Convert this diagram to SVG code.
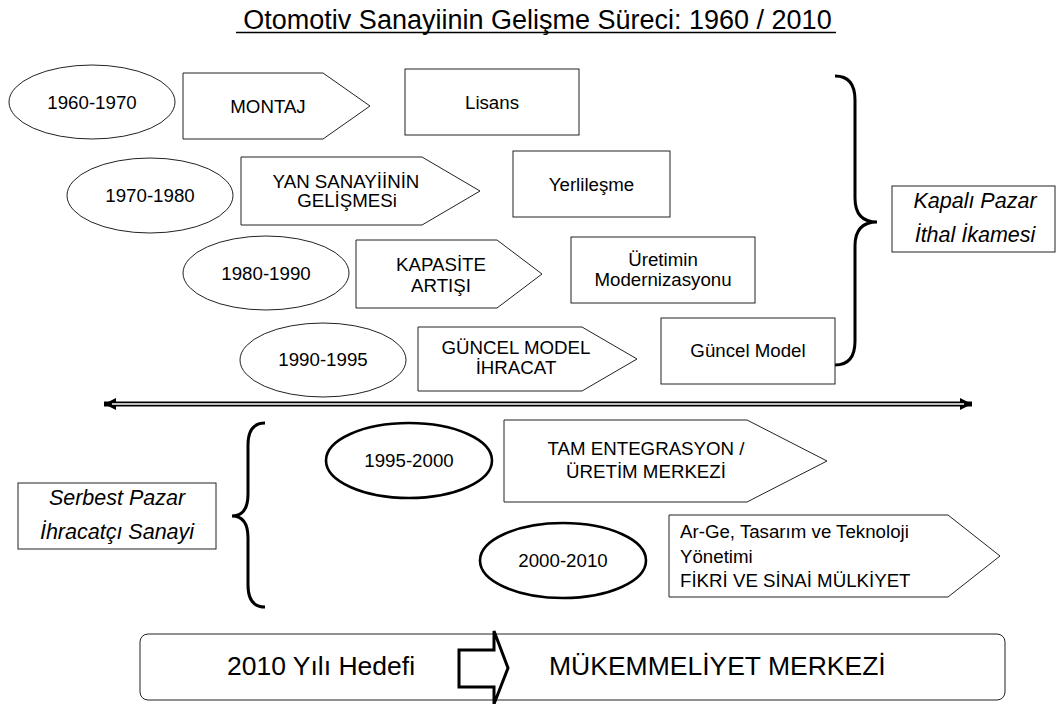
<svg xmlns="http://www.w3.org/2000/svg" width="1057" height="704" viewBox="0 0 1057 704">
<defs>
<style>
.t{font-family:"Liberation Sans",Arial,sans-serif;font-size:18.7px;fill:#000;text-anchor:middle}
.it{font-style:italic;font-size:21.5px}
.sm{font-size:18.7px;text-anchor:start}
.big{font-size:26.5px;text-anchor:start}
.sh{fill:#fff;stroke:#222;stroke-width:1}
.bold{stroke:#000;stroke-width:2.6}
.br{fill:none;stroke:#000;stroke-width:3}
</style>
<marker id="ah" viewBox="0 0 12 12" refX="12" refY="6" markerWidth="12" markerHeight="12" markerUnits="userSpaceOnUse" orient="auto-start-reverse">
<path d="M0,0 L12,6 L0,12 Z" fill="#000"/>
</marker>
</defs>
<rect width="1057" height="704" fill="#fff"/>

<g id="title">
<text class="t" x="537.5" y="29" style="font-size:27px">Otomotiv Sanayiinin Gelişme Süreci: 1960 / 2010</text>
<line x1="236" y1="32.5" x2="836" y2="32.5" stroke="#000" stroke-width="1.3"/>
</g>

<g id="connectors">
<line x1="104" y1="404" x2="972" y2="404" stroke="#000" stroke-width="5" marker-start="url(#ah)" marker-end="url(#ah)"/>
<line x1="112" y1="404" x2="964" y2="404" stroke="#fff" stroke-width="1.4"/>
<path class="br" d="M835,76 Q855,76 855,100 L855,198 Q855,222 877,222 Q855,222 855,246 L855,341 Q855,365 835,365"/>
<path class="br" d="M265,423 Q248,423 248,445 L248,494 Q248,516 232,516 Q248,516 248,538 L248,585 Q248,607 265,607"/>
</g>

<g id="n1960">
<ellipse class="sh" cx="92" cy="102" rx="83" ry="37"/>
<text class="t" x="92" y="108.5">1960-1970</text>
</g>
<g id="montaj">
<polygon class="sh" points="183,73 323,73 370,106 323,139 183,139"/>
<text class="t" x="268" y="113">MONTAJ</text>
</g>
<g id="lisans">
<rect class="sh" x="405" y="69" width="174" height="66"/>
<text class="t" x="492" y="108.5">Lisans</text>
</g>

<g id="n1970">
<ellipse class="sh" cx="150" cy="195.5" rx="83" ry="37.5"/>
<text class="t" x="150" y="202">1970-1980</text>
</g>
<g id="yansanayi">
<polygon class="sh" points="241,157 422,157 480,191 422,225 241,225"/>
<text class="t" x="346" y="188">YAN SANAYİİNİN</text>
<text class="t" x="347" y="207">GELİŞMESi</text>
</g>
<g id="yerlilesme">
<rect class="sh" x="513" y="151" width="157" height="66"/>
<text class="t" x="591.5" y="190.5">Yerlileşme</text>
</g>

<g id="n1980">
<ellipse class="sh" cx="266" cy="273" rx="83" ry="37"/>
<text class="t" x="266" y="279.5">1980-1990</text>
</g>
<g id="kapasite">
<polygon class="sh" points="356,240 497,240 542,274 497,308 356,308"/>
<text class="t" x="441" y="271">KAPASİTE</text>
<text class="t" x="441" y="292">ARTIŞI</text>
</g>
<g id="uretimin">
<rect class="sh" x="571" y="237" width="184" height="66"/>
<text class="t" x="663" y="266">Üretimin</text>
<text class="t" x="663" y="286">Modernizasyonu</text>
</g>

<g id="n1990">
<ellipse class="sh" cx="323" cy="360" rx="83" ry="37"/>
<text class="t" x="323" y="366">1990-1995</text>
</g>
<g id="guncelihracat">
<polygon class="sh" points="418,327 582,327 637,359 582,391 418,391"/>
<text class="t" x="516" y="354">GÜNCEL MODEL</text>
<text class="t" x="516" y="374">İHRACAT</text>
</g>
<g id="guncelmodel">
<rect class="sh" x="661" y="318" width="174" height="66"/>
<text class="t" x="748" y="357">Güncel Model</text>
</g>

<g id="kapali">
<rect class="sh" x="892" y="186" width="163" height="66"/>
<text class="t it" x="975" y="208">Kapalı Pazar</text>
<text class="t it" x="975" y="242">İthal İkamesi</text>
</g>

<g id="serbest">
<rect class="sh" x="18" y="483" width="198" height="66"/>
<text class="t it" x="117" y="505">Serbest Pazar</text>
<text class="t it" x="117" y="539">İhracatçı Sanayi</text>
</g>

<g id="n1995">
<ellipse class="sh bold" cx="409" cy="460.5" rx="83" ry="37.5"/>
<text class="t" x="409" y="467">1995-2000</text>
</g>
<g id="tamentegrasyon">
<polygon class="sh" points="504,420 747,420 827,461 747,502 504,502"/>
<text class="t" x="646" y="455">TAM ENTEGRASYON /</text>
<text class="t" x="646" y="478">ÜRETİM MERKEZİ</text>
</g>

<g id="n2000">
<ellipse class="sh bold" cx="563" cy="560.5" rx="83" ry="37.5"/>
<text class="t" x="563" y="567">2000-2010</text>
</g>
<g id="arge">
<polygon class="sh" points="669,515 948,515 1000,556 948,597 669,597"/>
<text class="t sm" x="680" y="538">Ar-Ge, Tasarım ve Teknoloji</text>
<text class="t sm" x="680" y="563">Yönetimi</text>
<text class="t sm" x="680" y="587">FİKRİ VE SİNAİ MÜLKİYET</text>
</g>

<g id="hedef">
<rect class="sh" x="140" y="634" width="865" height="66" rx="8"/>
<text class="t big" x="227" y="675">2010 Yılı Hedefi</text>
<path d="M459,650 L494,650 L494,631 L508,668 L494,704 L494,687 L459,687 Z" fill="#fff" stroke="#000" stroke-width="3"/>
<text class="t big" x="549" y="675">MÜKEMMELİYET MERKEZİ</text>
</g>
</svg>
